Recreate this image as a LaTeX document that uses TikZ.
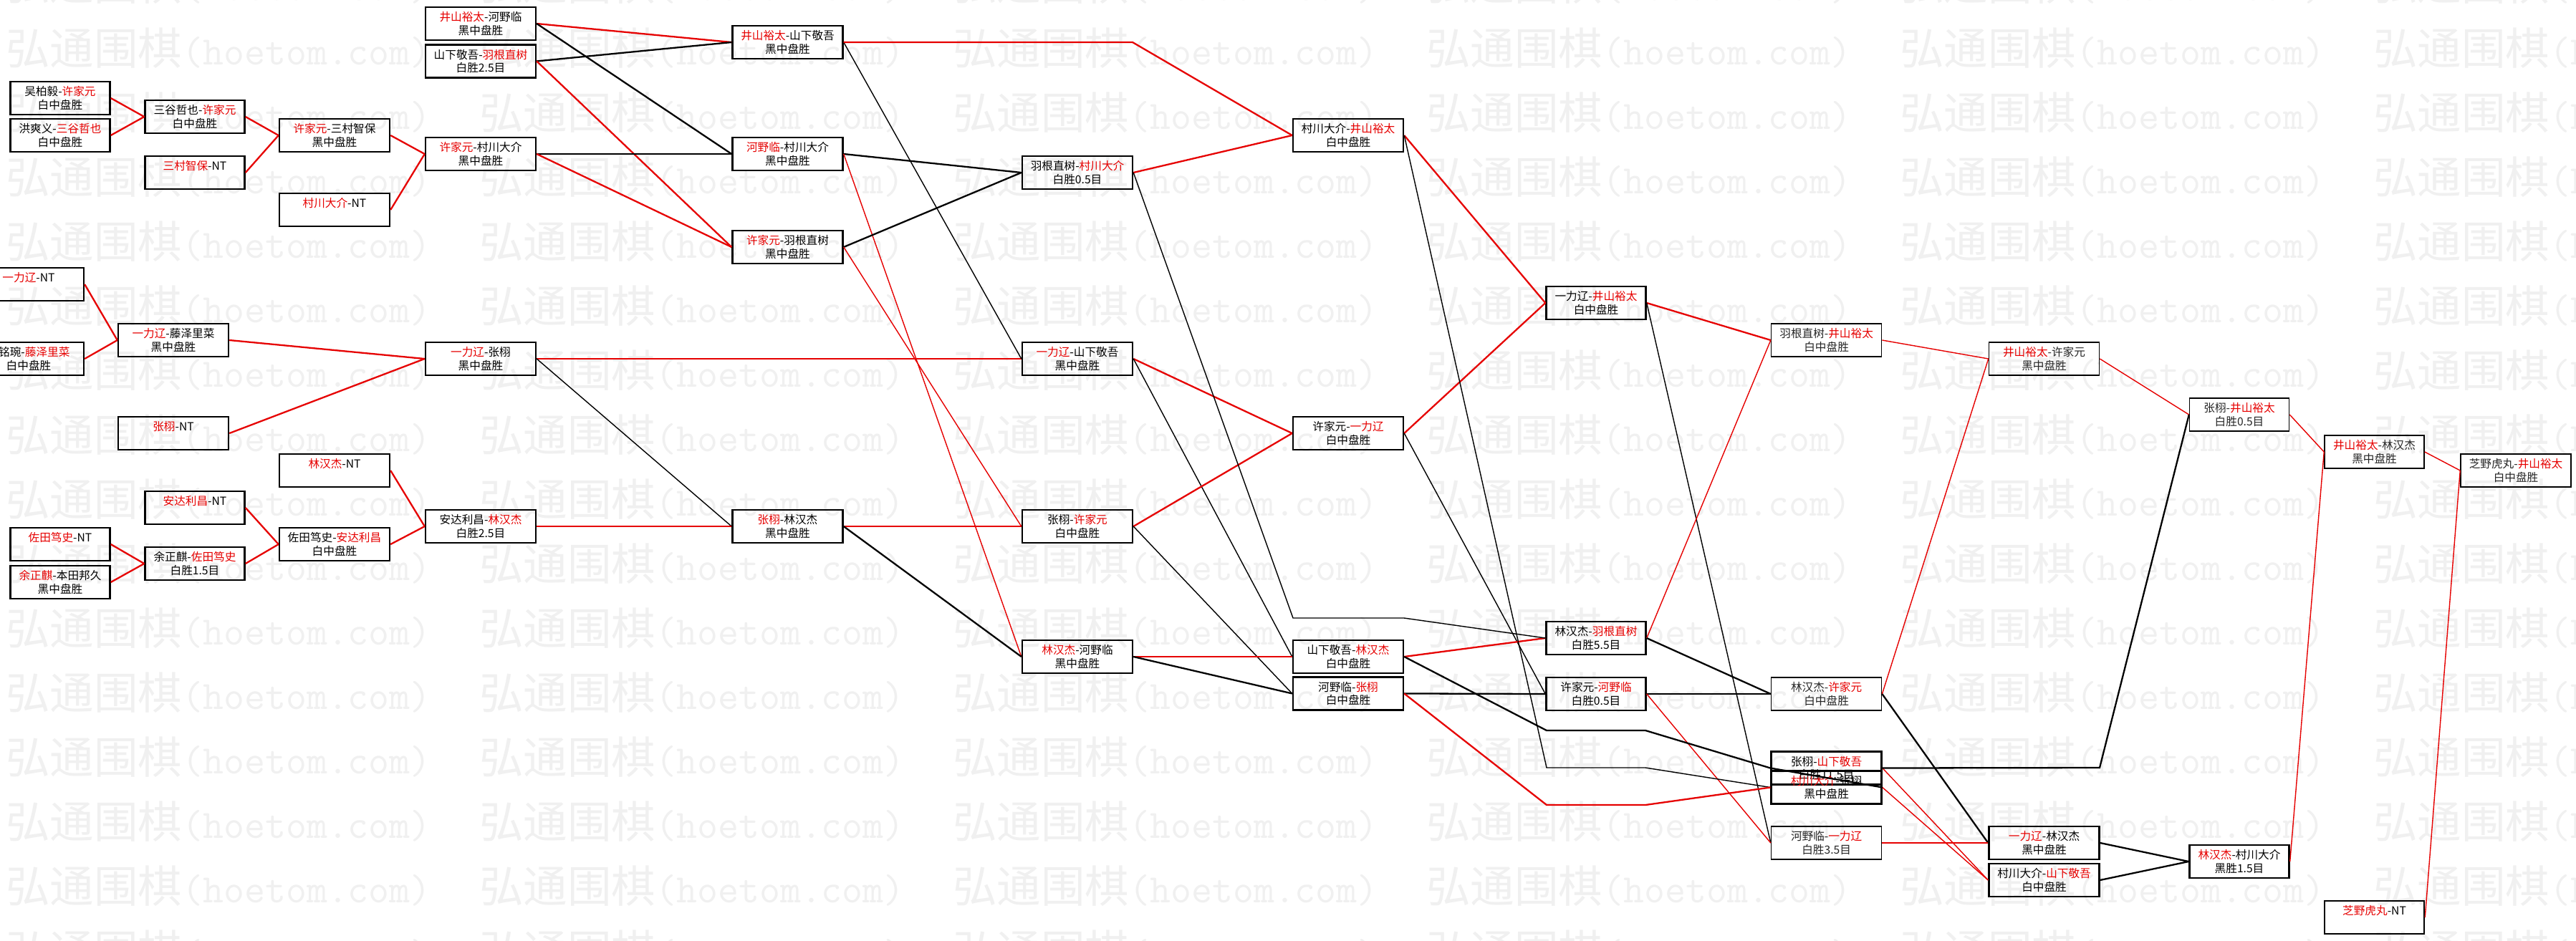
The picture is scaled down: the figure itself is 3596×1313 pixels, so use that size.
\documentclass[tikz,border=0pt]{standalone}
\usepackage{fontspec}
\newfontfamily\cjk{Noto Sans CJK SC}
\usetikzlibrary{positioning}
\definecolor{winred}{RGB}{230,0,0}
\newcommand{\rd}[1]{\textcolor{winred}{#1}}

\begin{document}
\begin{tikzpicture}[x=0.02cm, y=-0.02cm, font=\cjk\fontsize{8.9}{10.5}\selectfont]

    \tikzstyle{game} = [draw, rectangle, line width=1.4pt, minimum width=3.08cm, minimum height=0.92cm, inner sep=0pt, align=center]
    \tikzstyle{narrow} = [minimum width=2.78cm]
    \tikzstyle{faded} = [line width=0.9pt, text=black!85]
    \tikzstyle{win} = [draw=winred, line width=1.3pt]
    \tikzstyle{lose} = [draw=black, line width=1.3pt]
    \tikzstyle{fine} = [line width=0.8pt]
    \tikzstyle{wmark} = [text=black!6, inner sep=0pt, anchor=west, font=\cjk\fontsize{35}{35}\selectfont]

    \useasboundingbox (0,0) rectangle (3596,1313);
    \fill[white] (0,0) rectangle (3596,1313);

    % Watermark
    \foreach \ri in {-1,...,14}
      \foreach \ci in {0,...,5}
        \node[wmark] (wm\ri-\ci) at ({8+661*\ci},{67+90*\ri}) {弘通围棋{\ttfamily\fontsize{32}{32}\selectfont(hoetom.com)}};

    % Qualifiers, upper left
    \node[game, narrow] (wu) at (84,137) {吴柏毅-\rd{许家元}\\白中盘胜};
    \node[game, narrow, below=0.07cm of wu] (hong) {洪爽义-\rd{三谷哲也}\\白中盘胜};
    \node[game, narrow] (mitani) at (272,163) {三谷哲也-\rd{许家元}\\白中盘胜};
    \node[game, narrow] (mimuraNT) at (272,241) {\rd{三村智保}-NT\\\phantom{白}};
    \node[game] (xumimura) at (467,189) {\rd{许家元}-三村智保\\黑中盘胜};
    \node[game] (muraNT) at (467,293) {\rd{村川大介}-NT\\\phantom{白}};
    \node[game] (xumura) at (671,215) {\rd{许家元}-村川大介\\黑中盘胜};
    \node[game] (iykono) at (671,33) {\rd{井山裕太}-河野临\\黑中盘胜};
    \node[game, below=0.08cm of iykono] (yamahane) {山下敬吾-\rd{羽根直树}\\白胜2.5目};

    % Qualifiers, middle left
    \node[game] (ichiNT) at (40,397) {\rd{一力辽}-NT\\\phantom{白}};
    \node[game] (mingwan) at (40,501) {\hspace*{1em}铭琬-\rd{藤泽里菜}\\白中盘胜};
    \node[game] (ichifuji) at (242,475) {\rd{一力辽}-藤泽里菜\\黑中盘胜};
    \node[game] (zhangNT) at (242,605) {\rd{张栩}-NT\\\phantom{白}};
    \node[game] (ichizhang) at (671,501) {\rd{一力辽}-张栩\\黑中盘胜};

    % Qualifiers, lower left
    \node[game] (linNT) at (467,657) {\rd{林汉杰}-NT\\\phantom{白}};
    \node[game, narrow] (adachiNT) at (272,709) {\rd{安达利昌}-NT\\\phantom{白}};
    \node[game, narrow] (sadaNT) at (84,760) {\rd{佐田笃史}-NT\\\phantom{白}};
    \node[game, narrow, below=0.09cm of sadaNT] (yuhonda) {\rd{余正麒}-本田邦久\\黑中盘胜};
    \node[game, narrow] (yusada) at (272,787) {余正麒-\rd{佐田笃史}\\白胜1.5目};
    \node[game] (sadaadachi) at (467,760) {佐田笃史-\rd{安达利昌}\\白中盘胜};
    \node[game] (adachilin) at (671,735) {安达利昌-\rd{林汉杰}\\白胜2.5目};

    % Round 1
    \node[game] (iyyama) at (1099.5,59) {\rd{井山裕太}-山下敬吾\\黑中盘胜};
    \node[game] (konomura) at (1099.5,215) {\rd{河野临}-村川大介\\黑中盘胜};
    \node[game] (xuhane) at (1099.5,345) {\rd{许家元}-羽根直树\\黑中盘胜};
    \node[game] (zhanglin) at (1099.5,735) {\rd{张栩}-林汉杰\\黑中盘胜};

    % Round 2
    \node[game] (hanemura) at (1504,241) {羽根直树-\rd{村川大介}\\白胜0.5目};
    \node[game] (ichiyama) at (1504,501) {\rd{一力辽}-山下敬吾\\黑中盘胜};
    \node[game] (zhangxu) at (1504,735) {张栩-\rd{许家元}\\白中盘胜};
    \node[game] (linkono) at (1504,917) {\rd{林汉杰}-河野临\\黑中盘胜};

    % Round 3
    \node[game] (muraiy) at (1882,189) {村川大介-\rd{井山裕太}\\白中盘胜};
    \node[game] (xuichi) at (1882,605) {许家元-\rd{一力辽}\\白中盘胜};
    \node[game] (yamalin) at (1882,917) {山下敬吾-\rd{林汉杰}\\白中盘胜};
    \node[game, below=0.06cm of yamalin] (konozhang) {河野临-\rd{张栩}\\白中盘胜};

    % Round 4
    \node[game, narrow] (ichiiy) at (2228,423) {一力辽-\rd{井山裕太}\\白中盘胜};
    \node[game, narrow] (linhane) at (2228,891) {林汉杰-\rd{羽根直树}\\白胜5.5目};
    \node[game, narrow] (xukono) at (2228,969) {许家元-\rd{河野临}\\白胜0.5目};

    % Round 5
    \node[game, faded] (haneiy) at (2549.6,475) {羽根直树-\rd{井山裕太}\\白中盘胜};
    \node[game, faded] (linxu) at (2549.6,969) {林汉杰-\rd{许家元}\\白中盘胜};
    \node[game] (zhangyama) at (2549.6,1072.5) {张栩-\rd{山下敬吾}\\白胜11.5目};
    \node[game] (murazhang) at (2549.6,1099.5) {\rd{村川大介}-张栩\\黑中盘胜};
    \node[game, faded] (konoichi) at (2549.6,1177) {河野临-\rd{一力辽}\\白胜3.5目};

    % Round 6
    \node[game, faded] (iyxu) at (2853.5,501) {\rd{井山裕太}-许家元\\黑中盘胜};
    \node[game] (ichilin) at (2853.5,1177) {\rd{一力辽}-林汉杰\\黑中盘胜};
    \node[game, below=0.07cm of ichilin] (murayama) {村川大介-\rd{山下敬吾}\\白中盘胜};

    % Round 7 and final
    \node[game, narrow, faded] (zhangiy) at (3126,579) {张栩-\rd{井山裕太}\\白胜0.5目};
    \node[game, narrow] (linmura) at (3126,1203) {\rd{林汉杰}-村川大介\\黑胜1.5目};
    \node[game, narrow, faded] (iylin) at (3314.5,631) {\rd{井山裕太}-林汉杰\\黑中盘胜};
    \node[game, narrow] (shibaNT) at (3314.5,1281) {\rd{芝野虎丸}-NT\\\phantom{白}};
    \node[game, faded] (shibaiy) at (3512,657) {芝野虎丸-\rd{井山裕太}\\白中盘胜};

    % Bend points
    \coordinate (k1) at (1581,59);
    \coordinate (k2a) at (1805,863);
    \coordinate (k2b) at (1960,863);
    \coordinate (k3a) at (2159,1072);
    \coordinate (k3b) at (2297,1072);
    \coordinate (k4a) at (2159,1020);
    \coordinate (k4b) at (2297,1020);
    \coordinate (k5a) at (2159,1124);
    \coordinate (k5b) at (2297,1124);
    \coordinate (k6) at (2931,1072);

    % Connect the games
    \draw
        % qualifiers
        (wu.east) edge[win] (mitani.west)
        (hong.east) edge[win] (mitani.west)
        (mitani.east) edge[win] (xumimura.west)
        (mimuraNT.east) edge[win] (xumimura.west)
        (xumimura.east) edge[win] (xumura.west)
        (muraNT.east) edge[win] (xumura.west)
        (ichiNT.east) edge[win] (ichifuji.west)
        (mingwan.east) edge[win] (ichifuji.west)
        (ichifuji.east) edge[win] (ichizhang.west)
        (zhangNT.east) edge[win] (ichizhang.west)
        (sadaNT.east) edge[win] (yusada.west)
        (yuhonda.east) edge[win] (yusada.west)
        (yusada.east) edge[win] (sadaadachi.west)
        (adachiNT.east) edge[win] (sadaadachi.west)
        (sadaadachi.east) edge[win] (adachilin.west)
        (linNT.east) edge[win] (adachilin.west)

        % round 1
        (iykono.east) edge[win] (iyyama.west)
        (iykono.east) edge[lose] (konomura.west)
        (yamahane.east) edge[lose] (iyyama.west)
        (yamahane.east) edge[win] (xuhane.west)
        (xumura.east) edge[lose] (konomura.west)
        (xumura.east) edge[win] (xuhane.west)
        (ichizhang.east) edge[win] (ichiyama.west)
        (ichizhang.east) edge[lose, fine] (zhanglin.west)
        (adachilin.east) edge[win] (zhanglin.west)

        % round 2
        (iyyama.east) edge[lose, fine] (ichiyama.west)
        (konomura.east) edge[lose] (hanemura.west)
        (konomura.east) edge[win, fine] (linkono.west)
        (xuhane.east) edge[lose] (hanemura.west)
        (xuhane.east) edge[win, fine] (zhangxu.west)
        (zhanglin.east) edge[win] (zhangxu.west)
        (zhanglin.east) edge[lose] (linkono.west)

        % round 3
        (hanemura.east) edge[win] (muraiy.west)
        (ichiyama.east) edge[win] (xuichi.west)
        (ichiyama.east) edge[lose, fine] (yamalin.west)
        (zhangxu.east) edge[win] (xuichi.west)
        (zhangxu.east) edge[lose, fine] (konozhang.west)
        (linkono.east) edge[win] (yamalin.west)
        (linkono.east) edge[lose] (konozhang.west)

        % round 4
        (muraiy.east) edge[win] (ichiiy.west)
        (xuichi.east) edge[win] (ichiiy.west)
        (xuichi.east) edge[lose, fine] (xukono.west)
        (yamalin.east) edge[win] (linhane.west)
        (konozhang.east) edge[lose] (xukono.west)

        % round 5
        (ichiiy.east) edge[win] (haneiy.west)
        (ichiiy.east) edge[lose, fine] (konoichi.west)
        (linhane.east) edge[win, fine] (haneiy.west)
        (linhane.east) edge[lose] (linxu.west)
        (xukono.east) edge[lose] (linxu.west)
        (xukono.east) edge[win, fine] (konoichi.west)

        % round 6
        (haneiy.east) edge[win, fine] (iyxu.west)
        (linxu.east) edge[win, fine] (iyxu.west)
        (linxu.east) edge[lose] (ichilin.west)
        (zhangyama.east) edge[win, fine] (murayama.west)
        (murazhang.east) edge[win, fine] (murayama.west)
        (konoichi.east) edge[win, fine] (ichilin.west)

        % round 7 and final
        (iyxu.east) edge[win, fine] (zhangiy.west)
        (ichilin.east) edge[lose] (linmura.west)
        (murayama.east) edge[lose] (linmura.west)
        (zhangiy.east) edge[win, fine] (iylin.west)
        (linmura.east) edge[win, fine] (iylin.west)
        (iylin.east) edge[win, fine] (shibaiy.west)
        (shibaNT.east) edge[win, fine] (shibaiy.west);

    % Bent connectors
    \draw[win] (iyyama.east) -- (k1) -- (muraiy.west);
    \draw[lose, fine] (hanemura.east) -- (k2a) -- (k2b) -- (linhane.west);
    \draw[lose, fine] (muraiy.east) -- (k3a) -- (k3b) -- (murazhang.west);
    \draw[lose] (yamalin.east) -- (k4a) -- (k4b) -- (zhangyama.west) -- (murazhang.east);
    \draw[win] (konozhang.east) -- (k5a) -- (k5b) -- (murazhang.west);
    \draw[lose] (zhangyama.east) -- (k6) -- (zhangiy.west);

\end{tikzpicture}
\end{document}
